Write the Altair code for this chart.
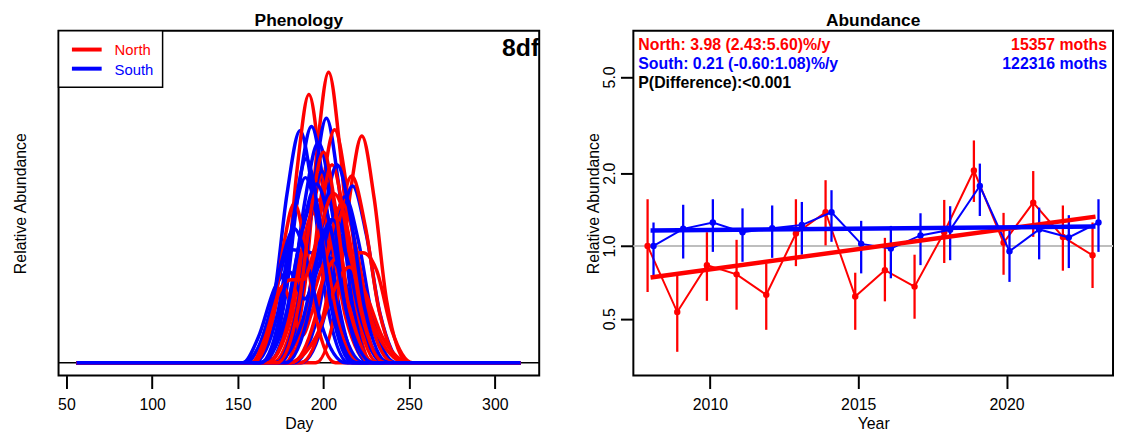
import altair as alt
import pandas as pd

RED = "#FF0000"
BLUE = "#0000FF"
FONT = "Liberation Sans"

# ---------------- Abundance panel data ----------------
YEARS = list(range(2008, 2024))
NORTH_EST = [1.00, 0.533, 0.833, 0.763, 0.628, 1.126, 1.378, 0.618, 0.794, 0.679, 1.14, 2.05, 1.03, 1.51, 1.09, 0.915]
NORTH_LO = [0.645, 0.365, 0.593, 0.545, 0.45, 0.825, 1.005, 0.45, 0.59, 0.50, 0.85, 1.52, 0.76, 1.09, 0.79, 0.67]
NORTH_HI = [1.56, 0.754, 1.14, 1.06, 0.846, 1.56, 1.87, 0.775, 1.08, 0.92, 1.55, 2.73, 1.37, 2.04, 1.47, 1.25]
SOUTH_EST = [1.00, 1.177, 1.25, 1.14, 1.185, 1.22, 1.378, 1.02, 0.975, 1.105, 1.166, 1.77, 0.95, 1.17, 1.085, 1.25]
SOUTH_LO = [0.754, 0.887, 0.945, 0.86, 0.893, 0.92, 1.04, 0.77, 0.735, 0.833, 0.873, 1.33, 0.71, 0.88, 0.81, 0.945]
SOUTH_HI = [1.25, 1.48, 1.56, 1.43, 1.47, 1.52, 1.70, 1.27, 1.21, 1.365, 1.46, 2.19, 1.18, 1.44, 1.34, 1.56]
TREND_YEARS = [2008, 2023]
NORTH_TREND = [0.740, 1.322]
SOUTH_TREND = [1.159, 1.203]

# ---------------- Phenology panel data (curve knots: day, relative abundance) ----------------
DAY_START, DAY_END = 56, 315
NORTH_KNOT_DAYS = [
    [177.5, 189.4, 196.2, 203, 209.8, 216.6, 228.5],
    [166, 178, 184.7, 191.5, 198.3, 205, 217],
    [195.4, 208, 215.2, 222.4, 229.6, 236.8, 249.4],
    [178, 191.3, 198.9, 206.5, 214.1, 221.7, 235],
    [170, 183.8, 191.8, 199.8, 207.8, 215.8, 230],
    [186.5, 200.5, 208.5, 216.5, 224.5, 232.5, 246.5],
    [167, 181, 189, 197, 205, 213, 227],
    [170, 188.2, 198.6, 209, 219.4, 229.8, 248],
    [160, 168, 176, 182, 187.5, 194, 203, 213, 223, 231, 240, 252],
    [167, 179.6, 186.8, 194, 201.2, 208.4, 221],
    [178, 190.6, 197.8, 205, 212.2, 219.4, 232],
    [181, 195, 203, 211, 219, 227, 241],
    [159, 170.2, 176.6, 183, 189.4, 195.8, 207],
    [179, 195.8, 205.4, 215, 224.6, 234.2, 251],
    [173, 185.6, 192.8, 200, 207.2, 214.4, 227],
    [158, 166, 174, 181, 188, 196, 206, 214, 222, 236],
]
NORTH_KNOT_VALUES = [
    [0, 0.253, 0.661, 0.91, 0.661, 0.253, 0],
    [0, 0.234, 0.61, 0.84, 0.61, 0.234, 0],
    [0, 0.197, 0.515, 0.71, 0.515, 0.197, 0],
    [0, 0.203, 0.53, 0.73, 0.53, 0.203, 0],
    [0, 0.164, 0.428, 0.59, 0.428, 0.164, 0],
    [0, 0.163, 0.425, 0.585, 0.425, 0.163, 0],
    [0, 0.142, 0.37, 0.51, 0.37, 0.142, 0],
    [0, 0.111, 0.29, 0.40, 0.29, 0.111, 0],
    [0, 0.08, 0.24, 0.17, 0.085, 0.17, 0.30, 0.345, 0.345, 0.29, 0.10, 0],
    [0, 0.131, 0.341, 0.47, 0.341, 0.131, 0],
    [0, 0.172, 0.45, 0.62, 0.45, 0.172, 0],
    [0, 0.139, 0.363, 0.50, 0.363, 0.139, 0],
    [0, 0.139, 0.363, 0.50, 0.363, 0.139, 0],
    [0, 0.083, 0.218, 0.30, 0.218, 0.083, 0],
    [0, 0.183, 0.479, 0.66, 0.479, 0.183, 0],
    [0, 0.08, 0.22, 0.26, 0.26, 0.38, 0.53, 0.42, 0.16, 0],
]
SOUTH_KNOT_DAYS = [
    [157.8, 171.1, 178.7, 186.3, 193.9, 201.5, 214.8],
    [164.5, 177.8, 185.4, 193, 200.6, 208.2, 221.5],
    [174.7, 187.3, 194.5, 201.7, 208.9, 216.1, 228.7],
    [167, 181, 189, 197, 205, 213, 227],
    [187, 201, 209, 217, 225, 233, 247],
    [182.5, 196.5, 204.5, 212.5, 220.5, 228.5, 242.5],
    [163.6, 177.6, 185.6, 193.6, 201.6, 209.6, 223.6],
    [155, 163, 172, 180, 188, 196, 205, 212, 220, 228, 240],
    [153, 162, 172, 180, 189, 197, 206, 213, 221, 235],
    [172, 184.6, 191.8, 199, 206.2, 213.4, 226],
    [159.5, 173.5, 181.5, 189.5, 197.5, 205.5, 219.5],
    [172, 187.4, 196.2, 205, 213.8, 222.6, 238],
    [153, 167, 175, 183, 191, 199, 213],
    [178, 192, 200, 208, 216, 224, 238],
    [163, 178.4, 187.2, 196, 204.8, 213.6, 229],
    [163, 175.6, 182.8, 190, 197.2, 204.4, 217],
]
SOUTH_KNOT_VALUES = [
    [0, 0.202, 0.528, 0.727, 0.528, 0.202, 0],
    [0, 0.206, 0.537, 0.74, 0.537, 0.206, 0],
    [0, 0.213, 0.556, 0.766, 0.556, 0.213, 0],
    [0, 0.192, 0.501, 0.69, 0.501, 0.192, 0],
    [0, 0.154, 0.402, 0.554, 0.402, 0.154, 0],
    [0, 0.145, 0.378, 0.52, 0.378, 0.145, 0],
    [0, 0.139, 0.363, 0.50, 0.363, 0.139, 0],
    [0, 0.06, 0.22, 0.355, 0.35, 0.34, 0.325, 0.26, 0.13, 0.04, 0],
    [0, 0.08, 0.24, 0.285, 0.20, 0.30, 0.45, 0.38, 0.15, 0],
    [0, 0.167, 0.436, 0.60, 0.436, 0.167, 0],
    [0, 0.161, 0.421, 0.58, 0.421, 0.161, 0],
    [0, 0.125, 0.327, 0.45, 0.327, 0.125, 0],
    [0, 0.117, 0.305, 0.42, 0.305, 0.117, 0],
    [0, 0.172, 0.45, 0.62, 0.45, 0.172, 0],
    [0, 0.156, 0.407, 0.56, 0.407, 0.156, 0],
    [0, 0.178, 0.465, 0.64, 0.465, 0.178, 0],
]

# ---------------- Build tables ----------------
rows = []
for i, yr in enumerate(YEARS):
    for region, kd, kv in (("North", NORTH_KNOT_DAYS, NORTH_KNOT_VALUES),
                           ("South", SOUTH_KNOT_DAYS, SOUTH_KNOT_VALUES)):
        pts = [(DAY_START, 0.0)] + list(zip(kd[i], kv[i])) + [(DAY_END, 0.0)]
        for d, v in pts:
            rows.append({"curve": f"{yr}-{region}", "region": region, "day": d, "rel": v})
curves = pd.DataFrame(rows)

north = pd.DataFrame({"year": YEARS, "est": NORTH_EST, "lo": NORTH_LO, "hi": NORTH_HI})
south = pd.DataFrame({"year": YEARS, "est": SOUTH_EST, "lo": SOUTH_LO, "hi": SOUTH_HI})
north_trend = pd.DataFrame({"year": TREND_YEARS, "fit": NORTH_TREND})
south_trend = pd.DataFrame({"year": TREND_YEARS, "fit": SOUTH_TREND})
one = pd.DataFrame({"k": [0]})

PW, PH = 485, 348
RW = 484
TICK = 13
LABPAD = 8
TITLEPAD = 3

# ---------------- Left panel ----------------
xday = alt.X("day:Q", scale=alt.Scale(domain=[45.4, 325.9], nice=False, zero=False),
             axis=alt.Axis(values=[50, 100, 150, 200, 250, 300], format="d", title="Day",
                           grid=False, domain=False, tickSize=TICK, tickWidth=2,
                           labelPadding=LABPAD, titlePadding=TITLEPAD, labelFontSize=16, titleFontSize=16,
                           titleFontWeight="normal"))
yrel = alt.Y("rel:Q", scale=alt.Scale(domain=[-0.04, 1.04], nice=False, zero=False),
             axis=alt.Axis(title="Relative Abundance", labels=False, ticks=False, domain=False,
                           grid=False, titlePadding=30, titleFontSize=16, titleFontWeight="normal"))

zero_line = alt.Chart(one).mark_rule(color="black", strokeWidth=1.5).encode(y=alt.datum(0))
curve_lines = alt.Chart(curves).mark_line(strokeWidth=3.5, interpolate="monotone").encode(
    x=xday, y=yrel,
    color=alt.Color("region:N", scale=alt.Scale(domain=["North", "South"], range=[RED, BLUE]), legend=None),
    detail="curve:N",
)
leg_box = alt.Chart(one).mark_rect(fill="white", stroke="black", strokeWidth=1.5).encode(
    x=alt.value(0), x2=alt.value(105), y=alt.value(0), y2=alt.value(57))
leg_n_line = alt.Chart(one).mark_rule(color=RED, strokeWidth=4).encode(
    x=alt.value(13.5), x2=alt.value(43.5), y=alt.value(19))
leg_s_line = alt.Chart(one).mark_rule(color=BLUE, strokeWidth=4).encode(
    x=alt.value(13.5), x2=alt.value(43.5), y=alt.value(38.3))
leg_n_text = alt.Chart(one).mark_text(align="left", baseline="middle", fontSize=15, color=RED, font=FONT).encode(
    x=alt.value(56.5), y=alt.value(20), text=alt.value("North"))
leg_s_text = alt.Chart(one).mark_text(align="left", baseline="middle", fontSize=15, color=BLUE, font=FONT).encode(
    x=alt.value(56.5), y=alt.value(39.3), text=alt.value("South"))
df_text = alt.Chart(one).mark_text(align="right", baseline="middle", fontSize=25, fontWeight="bold",
                                   color="black", font=FONT).encode(
    x=alt.value(485), y=alt.value(18), text=alt.value("8df"))

left = alt.layer(zero_line, curve_lines, leg_box, leg_n_line, leg_s_line, leg_n_text, leg_s_text, df_text).properties(
    width=PW, height=PH,
    title=alt.TitleParams("Phenology", fontSize=17.5, fontWeight="bold", offset=1, anchor="middle", color="black"))

# ---------------- Right panel ----------------
def xyear(field):
    return alt.X(f"{field}:Q", scale=alt.Scale(domain=[2007.42, 2023.59], nice=False, zero=False),
                 axis=alt.Axis(values=[2010, 2015, 2020], format="d", title="Year", grid=False, domain=False,
                               tickSize=TICK, tickWidth=2, labelPadding=LABPAD, titlePadding=TITLEPAD,
                               labelFontSize=16, titleFontSize=16, titleFontWeight="normal"))

ysc = alt.Scale(type="log", domain=[0.291, 7.76], nice=False)
yaxis = alt.Axis(values=[0.5, 1, 2, 5], format=".1f", title="Relative Abundance", grid=False, domain=False,
                 tickSize=13, tickWidth=2, labelAngle=270, labelAlign="center", labelBaseline="bottom",
                 labelPadding=3, titlePadding=0, labelFontSize=16, titleFontSize=16,
                 titleFontWeight="normal")

def yq(field):
    return alt.Y(f"{field}:Q", scale=ysc, axis=yaxis)

ref_line = alt.Chart(one).mark_rule(color="#BEBEBE", strokeWidth=2).encode(y=alt.datum(1))

def series(df, color, shift):
    base = alt.Chart(df).transform_calculate(xpos=f"datum.year + ({shift})")
    err = base.mark_rule(color=color, strokeWidth=2.3).encode(x=xyear("xpos"), y=yq("lo"), y2="hi:Q")
    ln = base.mark_line(color=color, strokeWidth=2).encode(x=xyear("xpos"), y=yq("est"))
    pt = base.mark_circle(color=color, size=42, opacity=1).encode(x=xyear("xpos"), y=yq("est"))
    return [err, ln, pt]

n_trend = alt.Chart(north_trend).mark_line(color=RED, strokeWidth=4.5).encode(x=xyear("year"), y=yq("fit"))
s_trend = alt.Chart(south_trend).mark_line(color=BLUE, strokeWidth=4.5).encode(x=xyear("year"), y=yq("fit"))

def label(txt, x, y, color, align="left"):
    return alt.Chart(one).mark_text(align=align, baseline="middle", fontSize=16, fontWeight="bold",
                                    color=color, font=FONT).encode(
        x=alt.value(x), y=alt.value(y), text=alt.value(txt))

texts = [
    label("North: 3.98 (2.43:5.60)%/y", 5, 14.3, RED),
    label("South: 0.21 (-0.60:1.08)%/y", 5, 33.7, BLUE),
    label("P(Difference):<0.001", 5, 52.3, "black"),
    label("15357 moths", 478, 14.3, RED, "right"),
    label("122316 moths", 478, 33.7, BLUE, "right"),
]

right = alt.layer(ref_line, *series(north, RED, -0.1), *series(south, BLUE, 0.1), n_trend, s_trend, *texts).properties(
    width=RW, height=PH,
    title=alt.TitleParams("Abundance", fontSize=17.5, fontWeight="bold", offset=1, anchor="middle", color="black"))

chart = alt.hconcat(left, right, spacing=44).properties(
    padding={"left": 4, "top": 0, "right": 0, "bottom": 0}
).configure(font=FONT).configure_view(
    stroke="black", strokeWidth=2
).configure_axis(
    labelColor="black", titleColor="black", tickColor="black", labelFont=FONT, titleFont=FONT
).configure_title(font=FONT)

chart.save("out.html", embed_options={"renderer": "svg", "actions": False})
